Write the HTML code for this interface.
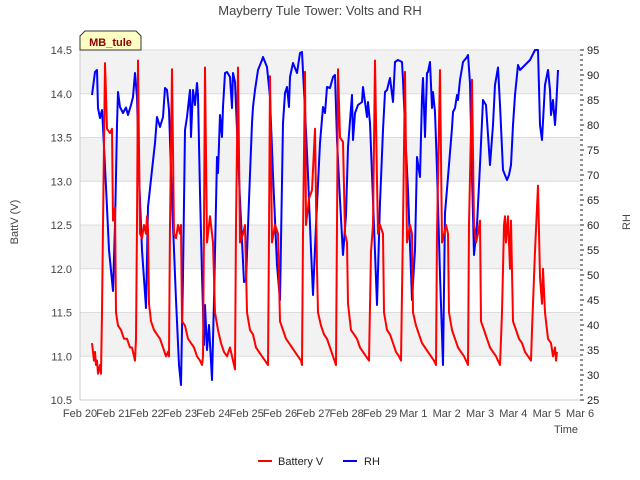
<!DOCTYPE html>
<html><head><meta charset="utf-8"><style>
html,body{margin:0;padding:0;background:#fff;}
svg{display:block;font-family:"Liberation Sans","DejaVu Sans",sans-serif;}
</style></head><body>
<svg id="chart" width="640" height="480" viewBox="0 0 640 480">
<rect x="0" y="0" width="640" height="480" fill="#fff"/>
<g id="bands"></g>
<g id="grid"></g>
<g id="series"></g>
<g id="axes"></g>
<text x="320" y="15" text-anchor="middle" font-size="13" fill="#444">Mayberry Tule Tower: Volts and RH</text>
<text x="18" y="222" text-anchor="middle" font-size="11" fill="#444" transform="rotate(-90 18 222)">BattV (V)</text>
<text x="630" y="222" text-anchor="middle" font-size="11" fill="#444" transform="rotate(-90 630 222)">RH</text>
<text x="578" y="433" text-anchor="end" font-size="11" fill="#444">Time</text>
<g>
<path d="M80,50 L80,36 L85,31 L136,31 L141,36 L141,50 Z" fill="#ffffc4" stroke="#333" stroke-width="1"/>
<text x="110.5" y="46" text-anchor="middle" font-size="11" font-weight="bold" fill="#8b0000">MB_tule</text>
</g>
<g>
<g>
<line x1="258" y1="461" x2="272" y2="461" stroke="#f00" stroke-width="2"/>
<text x="278" y="465" font-size="11" fill="#222">Battery V</text>
</g>
<g>
<line x1="343" y1="461" x2="357" y2="461" stroke="#00f" stroke-width="2"/>
<text x="364" y="465" font-size="11" fill="#222">RH</text>
</g>
</g>
</svg>
<script>
const xTickLabels = ["Feb 20","Feb 21","Feb 22","Feb 23","Feb 24","Feb 25","Feb 26","Feb 27","Feb 28","Feb 29","Mar 1","Mar 2","Mar 3","Mar 4","Mar 5","Mar 6"];
const vTicks = [10.5,11.0,11.5,12.0,12.5,13.0,13.5,14.0,14.5];
const rhTicks = [25,30,35,40,45,50,55,60,65,70,75,80,85,90,95];
const batT = [0.36,0.42,0.45,0.48,0.51,0.54,0.60,0.63,0.66,0.69,0.75,0.78,0.81,0.90,0.96,0.99,1.05,1.08,1.14,1.23,1.32,1.41,1.50,1.56,1.62,1.65,1.68,1.71,1.74,1.80,1.86,1.92,1.98,2.01,2.04,2.07,2.13,2.22,2.31,2.40,2.49,2.58,2.64,2.67,2.70,2.76,2.82,2.88,2.94,3.00,3.03,3.06,3.15,3.24,3.33,3.42,3.51,3.60,3.66,3.69,3.72,3.75,3.81,3.90,3.99,4.05,4.14,4.23,4.32,4.41,4.50,4.59,4.65,4.68,4.74,4.80,4.89,4.95,5.01,5.10,5.19,5.28,5.37,5.46,5.55,5.64,5.67,5.70,5.76,5.85,5.94,6.00,6.09,6.18,6.27,6.36,6.45,6.54,6.63,6.66,6.69,6.75,6.78,6.87,6.96,7.05,7.11,7.14,7.23,7.32,7.41,7.50,7.59,7.68,7.71,7.74,7.80,7.89,7.95,8.01,8.04,8.13,8.22,8.31,8.40,8.49,8.58,8.67,8.73,8.79,8.85,8.91,8.94,9.00,9.09,9.12,9.21,9.30,9.39,9.48,9.57,9.63,9.69,9.75,9.81,9.90,9.96,9.99,10.08,10.17,10.26,10.35,10.44,10.53,10.62,10.68,10.71,10.80,10.86,10.98,11.04,11.07,11.16,11.25,11.34,11.43,11.52,11.58,11.64,11.67,11.76,11.82,11.88,11.94,12.00,12.03,12.12,12.21,12.30,12.39,12.48,12.60,12.66,12.72,12.75,12.78,12.84,12.90,12.93,12.99,13.08,13.17,13.26,13.35,13.44,13.53,13.56,13.65,13.74,13.80,13.86,13.89,13.95,13.98,14.04,14.13,14.19,14.25,14.28,14.31];
const batV = [11.15,10.95,11.05,10.9,10.95,10.8,10.9,10.8,11.5,12.5,14.35,14.0,13.6,13.55,13.6,12.55,12.7,11.5,11.35,11.3,11.2,11.2,11.1,11.1,11.0,10.95,11.2,12.5,14.38,12.4,12.35,12.5,12.4,12.6,12.45,11.6,11.4,11.3,11.25,11.2,11.1,11.0,11.05,11.0,12.5,14.28,12.4,12.35,12.5,12.4,12.5,11.4,11.35,11.2,11.15,11.1,11.0,10.95,10.9,11.0,12.5,14.3,12.3,12.6,12.3,11.5,11.3,11.15,11.05,11.0,11.1,10.95,10.85,12.5,14.3,12.3,12.4,12.5,11.5,11.3,11.25,11.1,11.05,11.0,10.95,10.9,12.4,14.2,12.3,12.5,12.4,11.4,11.3,11.2,11.15,11.1,11.05,11.0,10.95,10.9,12.4,14.25,12.5,12.8,12.9,13.6,12.0,11.5,11.35,11.25,11.2,11.1,11.0,10.9,12.5,14.28,13.5,13.45,12.4,12.3,11.6,11.3,11.25,11.2,11.1,11.05,11.0,10.95,12.2,12.5,14.38,13.0,12.4,12.5,12.4,11.5,11.3,11.25,11.15,11.05,11.0,10.95,12.5,14.25,12.3,12.5,12.4,11.5,11.35,11.25,11.15,11.1,11.05,11.0,10.95,10.9,12.4,14.27,12.3,12.5,12.4,11.5,11.3,11.2,11.1,11.05,11.0,10.95,10.9,12.5,14.16,12.5,12.3,12.4,12.55,11.4,11.3,11.2,11.1,11.05,11.0,10.9,11.5,12.5,12.6,12.3,12.6,12.0,12.55,11.4,11.3,11.2,11.15,11.05,11.0,10.95,11.3,12.2,12.95,11.9,11.6,12.0,11.5,11.4,11.2,11.15,11.0,11.1,10.95,11.05];
const rhT = [0.36,0.45,0.51,0.54,0.60,0.66,0.69,0.78,0.87,0.99,1.05,1.11,1.14,1.20,1.29,1.38,1.44,1.53,1.59,1.65,1.71,1.77,1.86,1.98,2.04,2.16,2.25,2.31,2.40,2.49,2.55,2.61,2.67,2.76,2.88,2.97,3.03,3.09,3.15,3.21,3.30,3.33,3.39,3.45,3.51,3.54,3.60,3.66,3.72,3.75,3.81,3.87,3.96,4.02,4.11,4.14,4.20,4.26,4.29,4.35,4.41,4.50,4.56,4.59,4.65,4.71,4.80,4.92,4.98,5.07,5.16,5.19,5.25,5.34,5.46,5.49,5.61,5.70,5.79,5.91,6.00,6.09,6.15,6.21,6.27,6.30,6.39,6.51,6.60,6.66,6.75,6.84,6.93,6.99,7.08,7.20,7.29,7.35,7.41,7.50,7.59,7.65,7.71,7.80,7.89,7.98,8.04,8.16,8.19,8.25,8.34,8.46,8.49,8.61,8.64,8.70,8.79,8.91,9.00,9.09,9.15,9.21,9.30,9.39,9.45,9.54,9.66,9.69,9.78,9.84,9.96,10.05,10.11,10.20,10.26,10.29,10.35,10.41,10.44,10.50,10.56,10.59,10.65,10.71,10.74,10.80,10.89,10.95,11.04,11.16,11.19,11.25,11.31,11.34,11.40,11.46,11.49,11.61,11.64,11.70,11.76,11.82,11.91,12.00,12.09,12.18,12.24,12.30,12.39,12.45,12.54,12.60,12.69,12.81,12.87,12.93,12.99,13.05,13.14,13.20,13.35,13.50,13.65,13.74,13.80,13.86,13.95,14.04,14.10,14.13,14.19,14.25,14.28,14.34];
const rhV = [86,90.6,91,83.4,81.4,83,79.6,67.6,55,46.8,60,80,86.6,83.6,82.4,83.5,82,84,85.6,90.4,85.6,70,55,43.4,63.6,71,76.4,81.6,79.6,81.6,87.4,87,83,65,45,32,28,50,79,81.6,87,77.6,87,84,88.4,86,66.4,50,36,44,35,40,29,45,73.6,70.4,82,77.6,83.6,90.4,90.6,89.6,83.4,90.4,88.6,79,65,48.6,49,65,80.4,83.6,87,91,93,93.6,91.6,85.6,70,52,45,80.4,86.4,87.6,83.6,89.6,92.4,90.4,94.4,94.6,83,70,55,46,60,76.4,83.6,82.4,87.6,87.4,89.6,90,77,65,54,62,75.6,86,77,82.4,84,84.6,87.6,81.6,84.6,80.4,65,44,64.4,79,86.6,87,89.4,84.6,92.6,93,92.6,89,75,67,45,55,73.6,69.6,85.6,89.4,77.6,90.4,90.6,92.6,83.4,86.6,82.6,71,64,50,32,62.4,69.6,79.4,82.6,83.4,86,85,89,91.4,92.6,93.6,94,88.4,70,54,60,72,85,84,78,72,80,88,91.5,84,71,69,70,72,80,86,92,91,92,93,95,95,80,77,88,91,87,82,85,80,83,91];

const L=80,R=580,T=50,B=400;
const xDays=15;
function xs(t){return L+(R-L)*t/xDays;}
function yV(v){return B-(B-T)*(v-10.5)/4;}
function yRH(h){return B-(B-T)*(h-25)/70;}
const NS="http://www.w3.org/2000/svg";
function mk(tag,attrs,parent){const e=document.createElementNS(NS,tag);for(const k in attrs)e.setAttribute(k,attrs[k]);parent.appendChild(e);return e;}

const bands=document.getElementById('bands');
for(let i=0;i<vTicks.length-1;i++){
  if(i%2===1){
    const r=mk('rect',{x:L,y:yV(vTicks[i+1]),width:R-L,height:yV(vTicks[i])-yV(vTicks[i+1]),fill:'#f2f2f2'},bands);
    
    
  }
}
const grid=document.getElementById('grid');
const axes=document.getElementById('axes');
vTicks.forEach(v=>{
  const y=yV(v);
  const g=mk('line',{x1:L,x2:R,y1:y,y2:y,stroke:'#dcdcdc','stroke-width':1},grid);
  
  
  const t=mk('text',{x:72,y:y+4,'text-anchor':'end','font-size':11,fill:'#444'},axes);
  
  
  t.textContent=v.toFixed(1);
});
const la=mk('line',{x1:L,x2:L,y1:T,y2:B,stroke:'#ccc','stroke-width':1},axes);


const ba=mk('line',{x1:L,x2:R,y1:B,y2:B,stroke:'#ccc','stroke-width':1},axes);


xTickLabels.forEach((s,i)=>{
  const t=mk('text',{x:xs(i),y:417,'text-anchor':'middle','font-size':11,fill:'#444'},axes);
  
  
  t.textContent=s;
});
for(let h=25;h<=95;h++){
  const y=yRH(h);
  const tk=mk('line',{x1:R,x2:R+(h%5===0?4:3),y1:y,y2:y,stroke:'#222','stroke-width':1},axes);
  
  
}
rhTicks.forEach(h=>{
  const t=mk('text',{x:587,y:yRH(h)+4,'font-size':11,fill:'#222'},axes);
  
  
  t.textContent=h;
});

const series=document.getElementById('series');
function line(ts,vs,yf,color,name){
  const d=ts.map((t,i)=>(i?'L':'M')+xs(t).toFixed(1)+','+yf(vs[i]).toFixed(1)).join(' ');
  const p=mk('path',{d:d,fill:'none',stroke:color,'stroke-width':2,'stroke-linejoin':'round'},series);
  
  
}
line(rhT,rhV,yRH,'#0000ff','rh-line');
line(batT,batV,yV,'#ff0000','battery-v-line');
</script>
</body></html>
